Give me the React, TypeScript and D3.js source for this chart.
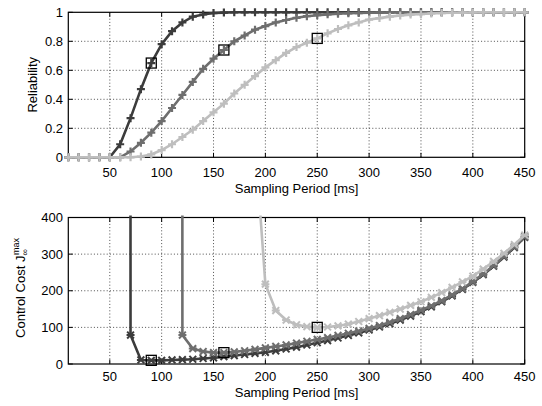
import React from 'react';
import * as d3 from 'd3';

// ---------- data ----------
const periods = [10, 20, 30, 40, 50, 60, 70, 80, 90, 100, 110, 120, 130, 140, 150, 160, 170, 180, 190, 200, 210, 220, 230, 240, 250, 260, 270, 280, 290, 300, 310, 320, 330, 340, 350, 360, 370, 380, 390, 400, 410, 420, 430, 440, 450];

const reliabilityDark = [0, 0, 0, 0, 0, 0.09, 0.27, 0.47, 0.65, 0.78, 0.87, 0.93, 0.97, 0.985, 0.995, 0.998, 1, 1, 1, 1, 1, 1, 1, 1, 1, 1, 1, 1, 1, 1, 1, 1, 1, 1, 1, 1, 1, 1, 1, 1, 1, 1, 1, 1, 1];
const reliabilityMedium = [0, 0, 0, 0, 0, 0, 0.04, 0.1, 0.17, 0.25, 0.34, 0.43, 0.52, 0.61, 0.68, 0.74, 0.8, 0.84, 0.88, 0.905, 0.93, 0.947, 0.962, 0.973, 0.98, 0.986, 0.99, 0.993, 0.995, 0.997, 0.998, 0.999, 1, 1, 1, 1, 1, 1, 1, 1, 1, 1, 1, 1, 1];
const reliabilityLight = [0, 0, 0, 0, 0, 0, 0, 0.005, 0.02, 0.05, 0.09, 0.14, 0.19, 0.25, 0.31, 0.37, 0.44, 0.5, 0.56, 0.62, 0.67, 0.72, 0.76, 0.79, 0.82, 0.855, 0.885, 0.91, 0.93, 0.95, 0.96, 0.97, 0.978, 0.984, 0.988, 0.992, 0.995, 0.997, 0.998, 0.999, 1, 1, 1, 1, 1];

const costDark = [null, null, null, null, null, 100000, 79, 11, 10, 10, 11, 12, 13, 15, 17, 20, 23, 26, 29, 32, 36, 41, 46, 52, 58, 64, 71, 78, 85, 93, 101, 110, 120, 131, 143, 156, 170, 186, 204, 223, 244, 267, 292, 318, 346];
const costMedium = [null, null, null, null, null, null, null, null, null, null, 100000, 79, 42, 34, 31, 31, 33, 36, 40, 44, 48, 52, 57, 62, 67, 72, 78, 84, 90, 97, 105, 114, 124, 135, 147, 159, 173, 189, 206, 225, 246, 269, 294, 320, 348];
const costLight = [null, null, null, null, null, null, null, null, null, null, null, null, null, null, null, null, null, null, 610, 218, 146, 120, 107, 102, 100, 101, 104, 109, 116, 124, 132, 141, 150, 160, 170, 182, 195, 209, 224, 240, 259, 280, 302, 326, 352];

const highlightPeriods = [90, 160, 250];

const xTicks = [50, 100, 150, 200, 250, 300, 350, 400, 450];
const relTicks = [0, 0.2, 0.4, 0.6, 0.8, 1];
const relTickLabels = ['0', '0.2', '0.4', '0.6', '0.8', '1'];
const costTicks = [0, 100, 200, 300, 400];
const costTickLabels = ['0', '100', '200', '300', '400'];

const seriesColors = ['#3c3c3c', '#6e6e6e', '#bebebe'];

// ---------- layout ----------
const W = 542;
const H = 406;
const FONT = '"Liberation Sans", Arial, Helvetica, sans-serif';
const LEFT = 68.3;
const RIGHT = 524.7;

type Val = number | null;

function Marker({ kind, x, y, color }: { kind: 'plus' | 'star'; x: number; y: number; color: string }) {
  const s = 4;
  if (kind === 'plus') {
    return (
      <path d={`M${x - s},${y}H${x + s}M${x},${y - s}V${y + s}`} stroke={color} strokeWidth={2.2} fill="none" />
    );
  }
  const d = 3.4;
  return (
    <path
      d={`M${x - d},${y - d}L${x + d},${y + d}M${x - d},${y + d}L${x + d},${y - d}M${x - s},${y}H${x + s}`}
      stroke={color}
      strokeWidth={2}
      fill="none"
    />
  );
}

function Panel({
  id,
  top,
  bottom,
  yDomain,
  yTicks,
  yTickLabels,
  series,
  marker,
  ylabel,
  xlabelY,
  tickLabelY,
}: {
  id: string;
  top: number;
  bottom: number;
  yDomain: [number, number];
  yTicks: number[];
  yTickLabels: string[];
  series: Val[][];
  marker: 'plus' | 'star';
  ylabel: React.ReactNode;
  xlabelY: number;
  tickLabelY: number;
}) {
  const x = d3.scaleLinear().domain([10, 450]).range([LEFT, RIGHT]);
  const y = d3.scaleLinear().domain(yDomain).range([bottom, top]);
  const tickLen = 4.5;

  const line = d3
    .line<[number, Val]>()
    .defined((d) => d[1] != null)
    .x((d) => x(d[0]))
    .y((d) => y(d[1] as number));

  return (
    <g>
      <defs>
        <clipPath id={id}>
          <rect x={LEFT - 2} y={top - 2} width={RIGHT - LEFT + 4} height={bottom - top + 4} />
        </clipPath>
      </defs>
      <rect x={LEFT} y={top} width={RIGHT - LEFT} height={bottom - top} fill="#fff" />
      {/* grid */}
      {xTicks
        .filter((t) => t > 10 && t < 450)
        .map((t) => (
          <line key={'gx' + t} x1={x(t)} x2={x(t)} y1={top} y2={bottom} stroke="#222" strokeWidth={0.8} strokeDasharray="1,2.2" />
        ))}
      {yTicks
        .filter((t) => t > yDomain[0] && t < yDomain[1])
        .map((t) => (
          <line key={'gy' + t} x1={LEFT} x2={RIGHT} y1={y(t)} y2={y(t)} stroke="#222" strokeWidth={0.8} strokeDasharray="1,2.2" />
        ))}
      {/* box & ticks */}
      <rect x={LEFT} y={top} width={RIGHT - LEFT} height={bottom - top} fill="none" stroke="#000" strokeWidth={1.2} />
      {xTicks.map((t) => (
        <g key={'tx' + t}>
          <line x1={x(t)} x2={x(t)} y1={bottom} y2={bottom - tickLen} stroke="#000" strokeWidth={1} />
          <line x1={x(t)} x2={x(t)} y1={top} y2={top + tickLen} stroke="#000" strokeWidth={1} />
          <text x={x(t)} y={tickLabelY} textAnchor="middle" fontSize={13} fontFamily={FONT} fill="#000">
            {t}
          </text>
        </g>
      ))}
      {yTicks.map((t, i) => (
        <g key={'ty' + t}>
          <line x1={LEFT} x2={LEFT + tickLen} y1={y(t)} y2={y(t)} stroke="#000" strokeWidth={1} />
          <line x1={RIGHT} x2={RIGHT - tickLen} y1={y(t)} y2={y(t)} stroke="#000" strokeWidth={1} />
          <text x={63} y={y(t) + 4.6} textAnchor="end" fontSize={13} fontFamily={FONT} fill="#000">
            {yTickLabels[i]}
          </text>
        </g>
      ))}
      {/* data */}
      {series.map((vals, si) => {
        const pts = periods.map((p, i) => [p, vals[i]] as [number, Val]);
        return (
          <g key={'s' + si}>
            <path d={line(pts) || ''} fill="none" stroke={seriesColors[si]} strokeWidth={2.6} clipPath={`url(#${id})`} />
            {pts
              .filter((d) => d[1] != null && (d[1] as number) >= yDomain[0] && (d[1] as number) <= yDomain[1])
              .map((d) => (
                <Marker key={d[0]} kind={marker} x={x(d[0])} y={y(d[1] as number)} color={seriesColors[si]} />
              ))}
          </g>
        );
      })}
      {series.map((vals, si) => {
        const p = highlightPeriods[si];
        const v = vals[periods.indexOf(p)] as number;
        return (
          <rect key={'h' + si} x={x(p) - 5} y={y(v) - 5} width={10} height={10} fill="none" stroke="#000" strokeWidth={1.3} />
        );
      })}
      <text x={(LEFT + RIGHT) / 2} y={xlabelY} textAnchor="middle" fontSize={13} fontFamily={FONT} fill="#000">
        Sampling Period [ms]
      </text>
      {ylabel}
    </g>
  );
}

export default function App() {
  return (
    <svg width={W} height={H} style={{ position: 'absolute', left: 0, top: 0, background: '#fff' }}>
      <rect x={0} y={0} width={W} height={H} fill="#fff" />
      <Panel
        id="clipTop"
        top={12.3}
        bottom={157.3}
        yDomain={[0, 1]}
        yTicks={relTicks}
        yTickLabels={relTickLabels}
        series={[reliabilityDark, reliabilityMedium, reliabilityLight]}
        marker="plus"
        xlabelY={192.5}
        tickLabelY={176.8}
        ylabel={
          <text transform="translate(36.5,84.8) rotate(-90)" textAnchor="middle" fontSize={13} fontFamily={FONT} fill="#000">
            Reliability
          </text>
        }
      />
      <Panel
        id="clipBottom"
        top={217.5}
        bottom={364}
        yDomain={[0, 400]}
        yTicks={costTicks}
        yTickLabels={costTickLabels}
        series={[costDark, costMedium, costLight]}
        marker="star"
        xlabelY={397}
        tickLabelY={381}
        ylabel={
          <text transform="translate(24.5,288) rotate(-90)" textAnchor="middle" fontSize={13} fontFamily={FONT} fill="#000">
            Control Cost J
            <tspan fontSize={9} dy={3.5}>∞</tspan>
            <tspan fontSize={9} dx={-6} dy={-9}>max</tspan>
          </text>
        }
      />
    </svg>
  );
}
